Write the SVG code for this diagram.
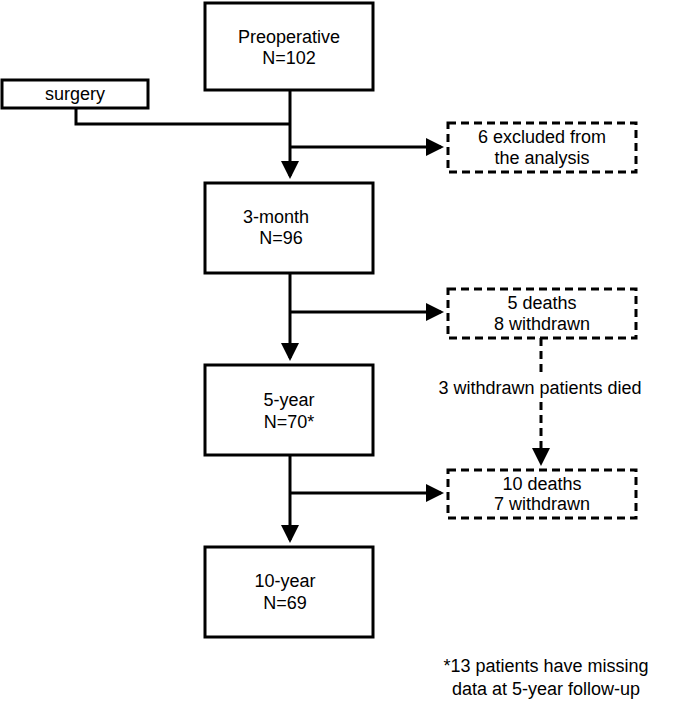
<svg xmlns="http://www.w3.org/2000/svg" width="685" height="719" viewBox="0 0 685 719">
<style>
text{font-family:"Liberation Sans",Arial,sans-serif;font-size:18px;fill:#000;text-anchor:middle}
.box{fill:#fff;stroke:#000;stroke-width:3}
.dbox{fill:#fff;stroke:#000;stroke-width:3;stroke-dasharray:8,5}
.ln{stroke:#000;stroke-width:3;fill:none}
</style>
<defs><marker id="a" markerWidth="6" markerHeight="6" refX="5" refY="3" orient="auto"><path d="M0,0L6,3L0,6z" fill="#000"/></marker></defs>
<g id="connectors">
<path class="ln" d="M76,108V124H290"/>
<path class="ln" d="M290,90V176" marker-end="url(#a)"/>
<path class="ln" d="M290,147H441" marker-end="url(#a)"/>
<path class="ln" d="M290,273V358" marker-end="url(#a)"/>
<path class="ln" d="M290,312H441" marker-end="url(#a)"/>
<path class="ln" d="M290,455V540" marker-end="url(#a)"/>
<path class="ln" d="M290,493H441" marker-end="url(#a)"/>
<path class="ln" d="M541,338V372" stroke-dasharray="8,5"/>
<path class="ln" d="M541,402V463" stroke-dasharray="8,5" marker-end="url(#a)"/>
<text x="540" y="394">3 withdrawn patients died</text>
</g>
<g id="surgery"><rect class="box" x="2" y="80" width="146" height="28" stroke-width="2"/><text x="75" y="100">surgery</text></g>
<g id="pre"><rect class="box" x="205" y="3" width="168" height="87"/><text x="289" y="43">Preoperative</text><text x="289" y="64">N=102</text></g>
<g id="m3"><rect class="box" x="205" y="183" width="168" height="90"/><text x="276" y="223">3-month</text><text x="281" y="244">N=96</text></g>
<g id="y5"><rect class="box" x="205" y="365" width="168" height="90"/><text x="289" y="406">5-year</text><text x="289" y="428">N=70*</text></g>
<g id="y10"><rect class="box" x="205" y="547" width="168" height="90"/><text x="285" y="587">10-year</text><text x="285" y="609">N=69</text></g>
<g id="excl"><rect class="dbox" x="448" y="123" width="188" height="49"/><text x="542" y="143">6 excluded from</text><text x="542" y="164">the analysis</text></g>
<g id="d1"><rect class="dbox" x="448" y="289" width="188" height="49"/><text x="542" y="309">5 deaths</text><text x="542" y="330">8 withdrawn</text></g>
<g id="d2"><rect class="dbox" x="448" y="470" width="188" height="48"/><text x="542" y="490">10 deaths</text><text x="542" y="510">7 withdrawn</text></g>
<g id="note"><text x="546" y="672">*13 patients have missing</text><text x="546" y="695">data at 5-year follow-up</text></g>
</svg>
